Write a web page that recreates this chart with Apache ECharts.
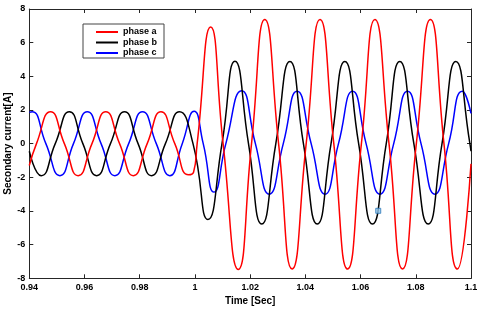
<!DOCTYPE html>
<html><head><meta charset="utf-8">
<script src="https://cdn.jsdelivr.net/npm/echarts@6/dist/echarts.min.js"></script>
<style>html,body{margin:0;padding:0;background:#fff}#c{width:480px;height:309px}</style>
</head><body><div id="c"></div>
<script>
// Tick labels
const xTickLabels = ['0.94','0.96','0.98','1','1.02','1.04','1.06','1.08','1.1'];
const yTickLabels = ['-8','-6','-4','-2','0','2','4','6','8'];
const seriesNames = ['phase a','phase b','phase c'];

// phase a (red): key points (extrema and zero crossings)
const tA = [0.94,0.9426,0.9477,0.9527,0.9577,0.9627,0.9677,0.9727,0.9777,0.9827,0.9877,0.9927,0.9977,0.9995,1.0008,1.0057,1.0102,1.0157,1.0205,1.0253,1.0303,1.0352,1.0403,1.0453,1.0503,1.0553,1.0603,1.0652,1.0703,1.0752,1.0802,1.0853,1.0902,1.0951,1.1];
const iA = [-1.3,0,1.9,0,-1.9,0,1.9,0,-1.9,0,1.9,0,-1.85,-1.7,0,6.93,0,-7.47,0,7.38,0,-7.45,0,7.38,0,-7.45,0,7.38,0,-7.45,0,7.38,0,-7.45,-1.2];

// phase b (black)
const tB = [0.94,0.9443,0.9494,0.9545,0.9594,0.9644,0.9694,0.9745,0.9794,0.9843,0.9893,0.9944,0.9993,1.0047,1.0098,1.0145,1.0194,1.0242,1.0293,1.0344,1.0393,1.0443,1.0493,1.0543,1.0593,1.0643,1.0693,1.0742,1.0793,1.0845,1.0895,1.0945,1.0996,1.1];
const iB = [-0.45,-1.9,0,1.9,0,-1.9,0,1.9,0,-1.9,0,1.9,0,-4.5,0,4.9,0,-4.78,0,4.88,0,-4.78,0,4.88,0,-4.78,0,4.88,0,-4.78,0,4.88,0,-0.45];

// phase c (blue)
const tC = [0.94,0.941,0.946,0.9511,0.956,0.961,0.966,0.971,0.976,0.981,0.986,0.9909,0.9954,0.9997,1.003,1.0069,1.0112,1.0169,1.0219,1.0269,1.032,1.037,1.0421,1.0471,1.052,1.0571,1.062,1.067,1.072,1.077,1.0819,1.0869,1.0919,1.0969,1.1];
const iC = [1.86,1.9,0,-1.9,0,1.9,0,-1.9,0,1.9,0,-1.9,0,1.92,0,-2.88,0,3.15,0,-3.0,0,3.12,0,-3.0,0,3.12,0,-3.0,0,3.12,0,-3.0,0,3.12,1.8];

// data tip marker
const markerPoint = [[1.0664, -3.99]];

const colors = ['#ff0000','#000000','#0000ff'];
const font = 'Liberation Sans, Arial, Helvetica, sans-serif';
const axisColor = '#262626';

function pairs(t, v){ return t.map((x,k)=>[x, v[k]]); }

const chart = echarts.init(document.getElementById('c'), null, {renderer:'canvas'});
const xBase = {
  type:'value', min:0.94, max:1.1, interval:0.02,
  axisLine:{show:true, onZero:false, lineStyle:{color:axisColor, width:1}},
  axisTick:{show:true, inside:true, length:4, lineStyle:{color:axisColor}},
  splitLine:{show:false}
};
const yBase = {
  type:'value', min:-8, max:8, interval:2,
  axisLine:{show:true, onZero:false, lineStyle:{color:axisColor, width:1}},
  axisTick:{show:true, inside:true, length:4, lineStyle:{color:axisColor}},
  splitLine:{show:false}
};
const lineSeries = [[tA,iA],[tB,iB],[tC,iC]].map((d,k)=>({
  name: seriesNames[k], type:'line', data: pairs(d[0], d[1]),
  xAxisIndex:0, yAxisIndex:0,
  showSymbol:false, symbol:'none', smooth:0.55,
  lineStyle:{color:colors[k], width:1.5}, itemStyle:{color:colors[k]},
  z: 3 - k
}));
chart.setOption({
  animation:false,
  backgroundColor:'#fff',
  grid:{left:29.3, right:9, top:9, bottom:30.7, containLabel:false, outerBoundsMode:'none'},
  legend:{
    data: seriesNames, orient:'vertical', left:83, top:24,
    padding:[3,7,0,13], itemGap:0.5, itemWidth:22, itemHeight:2, icon:'rect',
    borderColor:'#444', borderWidth:1, backgroundColor:'#fff', borderRadius:0,
    textStyle:{fontFamily:font, fontWeight:'bold', fontSize:9, color:'#000', lineHeight:10}
  },
  xAxis:[
    Object.assign({}, xBase, {position:'bottom',
      name:'Time [Sec]', nameLocation:'middle', nameGap:18, nameMoveOverlap:false,
      nameTextStyle:{fontFamily:font, fontWeight:'bold', fontSize:10, color:'#000'},
      axisLabel:{show:true, margin:5, fontFamily:font, fontWeight:'bold', fontSize:9, color:'#000',
        formatter:(v,i)=>xTickLabels[i]}}),
    Object.assign({}, xBase, {position:'top', axisLabel:{show:false}})
  ],
  yAxis:[
    Object.assign({}, yBase, {position:'left',
      name:'Secondary current[A]', nameLocation:'middle', nameGap:16, nameMoveOverlap:false,
      nameTextStyle:{fontFamily:font, fontWeight:'bold', fontSize:10, color:'#000'},
      axisLabel:{show:true, margin:4, fontFamily:font, fontWeight:'bold', fontSize:9, color:'#000',
        formatter:(v,i)=>yTickLabels[i]}}),
    Object.assign({}, yBase, {position:'right', axisLabel:{show:false}})
  ],
  series: lineSeries.concat([{
    name:'datatip', type:'scatter', data: markerPoint, symbol:'rect', symbolSize:5,
    itemStyle:{color:'#8ec3ea', borderColor:'#2b78b8', borderWidth:1}, z:10
  }])
});
</script></body></html>
